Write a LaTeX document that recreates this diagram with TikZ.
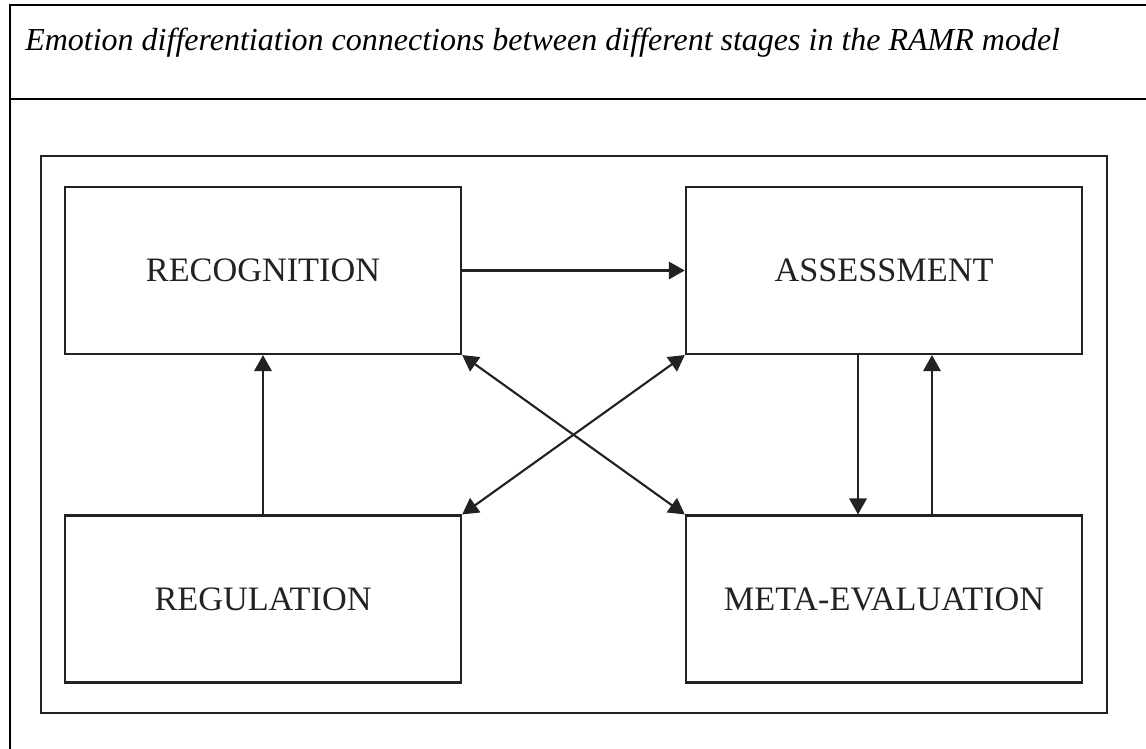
\documentclass[tikz,border=0pt]{standalone}
\usepackage{fontspec}
\setmainfont{Liberation Serif}
\usetikzlibrary{arrows.meta}
\definecolor{ink}{HTML}{222222}
\tikzset{
  stage/.style={draw=ink, line width=1.8pt, rectangle, minimum width=297pt, minimum height=125pt,
    inner sep=0pt, text=ink, font=\fontsize{25.7}{30}\selectfont},
  tip/.tip={Triangle[length=12pt,width=13pt]},
  link/.style={draw=ink, line width=1.6pt, -tip},
  dlink/.style={draw=ink, line width=1.6pt, tip-tip},
  rule/.style={draw=black, line width=1.9pt}
}
\begin{document}
\begin{tikzpicture}[x=0.75pt,y=-0.75pt]
  \useasboundingbox (0,0) rectangle (1146,749);
  % table rules
  \draw[rule] (1146,5) -- (10,5) -- (10,760);
  \draw[rule] (10,99) -- (1146,99);
  \node[anchor=base west, inner sep=0pt, font=\fontsize{24}{28}\selectfont\itshape] (title) at (25,51)
    {Emotion differentiation connections between different stages in the RAMR model};
  % frame around the model
  \draw[draw=ink, line width=1.8pt] (41,156) rectangle (1107,713);
  % stages
  \node[stage] (rec) at (263,270.5) {RECOGNITION};
  \node[stage] (ass) at (884,270.5) {ASSESSMENT};
  \node[stage] (reg) at (263,599) {REGULATION};
  \node[stage] (met) at (884,599) {META-EVALUATION};
  % connections
  \draw[link] (rec.east) -- (ass.west);
  \draw[link] (reg.north) -- (rec.south);
  \draw[link] (ass.south -| 858,0) -- (met.north -| 858,0);
  \draw[link] (met.north -| 932,0) -- (ass.south -| 932,0);
  \draw[dlink] (rec.south east) -- (met.north west);
  \draw[dlink] (ass.south west) -- (reg.north east);
\end{tikzpicture}
\end{document}
